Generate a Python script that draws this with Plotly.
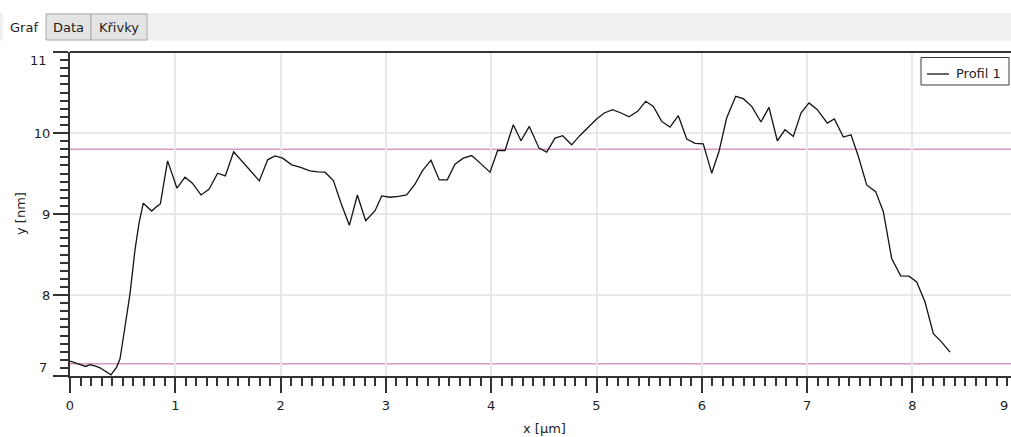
import plotly.graph_objects as go

# Height profile (x in µm, y in nm)
x_um = [0.000, 0.047, 0.095, 0.149, 0.190, 0.237, 0.285, 0.332, 0.389, 0.443,
        0.475, 0.522, 0.570, 0.617, 0.655, 0.696, 0.776, 0.823, 0.858, 0.927,
        1.016, 1.092, 1.162, 1.244, 1.320, 1.402, 1.475, 1.554, 1.636, 1.725,
        1.798, 1.877, 1.947, 2.020, 2.105, 2.184, 2.279, 2.358, 2.422, 2.501,
        2.574, 2.653, 2.729, 2.808, 2.897, 2.960, 3.039, 3.118, 3.197, 3.276,
        3.346, 3.428, 3.507, 3.583, 3.656, 3.735, 3.815, 3.903, 3.989, 4.061,
        4.131, 4.210, 4.283, 4.362, 4.454, 4.527, 4.606, 4.679, 4.764, 4.843,
        4.922, 5.001, 5.074, 5.153, 5.233, 5.309, 5.391, 5.467, 5.540, 5.619,
        5.698, 5.777, 5.857, 5.936, 6.014, 6.094, 6.163, 6.236, 6.322, 6.394,
        6.474, 6.562, 6.638, 6.717, 6.790, 6.869, 6.942, 7.018, 7.097, 7.192,
        7.259, 7.344, 7.417, 7.487, 7.566, 7.651, 7.724, 7.803, 7.889, 7.968,
        8.041, 8.120, 8.199, 8.272, 8.357]
y_nm = [7.183, 7.163, 7.142, 7.118, 7.139, 7.126, 7.101, 7.060, 7.015, 7.110,
        7.213, 7.605, 8.018, 8.554, 8.885, 9.133, 9.037, 9.091, 9.124, 9.656,
        9.318, 9.454, 9.380, 9.235, 9.306, 9.504, 9.471, 9.768, 9.648, 9.524,
        9.409, 9.669, 9.718, 9.690, 9.607, 9.578, 9.532, 9.520, 9.516, 9.412,
        9.133, 8.860, 9.235, 8.917, 9.041, 9.223, 9.207, 9.218, 9.235, 9.368,
        9.533, 9.665, 9.421, 9.421, 9.615, 9.689, 9.722, 9.619, 9.516, 9.784,
        9.784, 10.102, 9.904, 10.081, 9.813, 9.764, 9.937, 9.966, 9.854, 9.970,
        10.073, 10.173, 10.247, 10.288, 10.247, 10.201, 10.267, 10.391, 10.329, 10.143,
        10.073, 10.214, 9.925, 9.871, 9.867, 9.504, 9.771, 10.185, 10.453, 10.424,
        10.329, 10.136, 10.317, 9.904, 10.040, 9.957, 10.247, 10.371, 10.288, 10.123,
        10.173, 9.950, 9.978, 9.710, 9.359, 9.276, 9.029, 8.451, 8.236, 8.232,
        8.162, 7.914, 7.523, 7.427, 7.295]

# Horizontal marker levels (nm)
marker_levels = [9.80, 7.15]

series_name = "Profil 1"
tab_labels = ["Graf", "Data", "Křivky"]
x_ticks = [0, 1, 2, 3, 4, 5, 6, 7, 8]
y_ticks = [7, 8, 9, 10, 11]

W, H = 1011, 437
ML, MR, MT, MB = 70, 0, 52, 61
PW, PH = W - ML - MR, H - MT - MB
X_SCALE = 105.3  # px per µm
FONT = "DejaVu Sans"
TXT = "#1e1e1e"


def px(xp):
    return (xp - ML) / PW


def py(yp):
    return (H - MB - yp) / PH


fig = go.Figure()
fig.add_trace(go.Scatter(x=x_um, y=y_nm, mode="lines", name=series_name,
                         line=dict(color="#141414", width=1.3),
                         showlegend=False))

shapes = []
# marker levels
for lv in marker_levels:
    shapes.append(dict(type="line", xref="paper", x0=0, x1=1, yref="y",
                       y0=lv, y1=lv, layer="between",
                       line=dict(color="#d897c0", width=1.5)))
# top frame line
shapes.append(dict(type="line", xref="paper", x0=0, x1=1, yref="paper",
                   y0=1, y1=1, line=dict(color="#333333", width=2)))

# tab strip
shapes.append(dict(type="rect", xref="paper", yref="paper",
                   x0=px(0), x1=px(W), y0=py(40.5), y1=py(13),
                   fillcolor="#f0f0f0", line=dict(width=0)))
tab_bounds = [(3, 46), (46, 91), (91, 147)]
for i, (a, b) in enumerate(tab_bounds):
    if i == 0:
        shapes.append(dict(type="rect", xref="paper", yref="paper",
                           x0=px(a), x1=px(b), y0=py(41), y1=py(12),
                           fillcolor="#ffffff", line=dict(width=0)))
    else:
        shapes.append(dict(type="rect", xref="paper", yref="paper",
                           x0=px(a), x1=px(b), y0=py(40), y1=py(14),
                           fillcolor="#e4e4e4",
                           line=dict(color="#a9a9a9", width=1)))

# legend box
shapes.append(dict(type="rect", xref="paper", yref="paper",
                   x0=px(921), x1=px(1009), y0=py(85), y1=py(57.5),
                   fillcolor="#ffffff", line=dict(color="#3a3a3a", width=1)))
shapes.append(dict(type="line", xref="paper", yref="paper",
                   x0=px(927), x1=px(949), y0=py(74), y1=py(74),
                   line=dict(color="#141414", width=1.3)))
fig.update_layout(shapes=shapes)

annotations = []
tab_centers = [24, 68, 119]
for lab, cx in zip(tab_labels, tab_centers):
    annotations.append(dict(text=lab, xref="paper", yref="paper",
                            x=px(cx), y=py(27), showarrow=False,
                            xanchor="center", yanchor="middle",
                            font=dict(family=FONT, size=13, color=TXT)))
annotations.append(dict(text=series_name, xref="paper", yref="paper",
                        x=px(954), y=py(73.5), showarrow=False,
                        xanchor="left", yanchor="middle",
                        font=dict(family=FONT, size=13, color=TXT)))
# end labels of the y scale sit inside the axis span
annotations.append(dict(text="11", xref="paper", yref="y", x=0, y=11,
                        xshift=-21, yshift=-8, showarrow=False,
                        xanchor="right", yanchor="middle",
                        font=dict(family=FONT, size=13, color=TXT)))
annotations.append(dict(text="7", xref="paper", yref="y", x=0, y=7,
                        xshift=-21, yshift=9, showarrow=False,
                        xanchor="right", yanchor="middle",
                        font=dict(family=FONT, size=13, color=TXT)))
# last x label, pulled in against the right edge
annotations.append(dict(text="9", xref="paper", yref="paper",
                        x=1, y=py(405), xshift=-1,
                        showarrow=False, xanchor="right", yanchor="middle",
                        font=dict(family=FONT, size=13, color=TXT)))
# axis titles
annotations.append(dict(text="x [µm]", xref="paper", yref="paper",
                        x=px(544), y=py(428), showarrow=False,
                        xanchor="center", yanchor="middle",
                        font=dict(family=FONT, size=13, color=TXT)))
annotations.append(dict(text="y [nm]", xref="paper", yref="paper",
                        x=px(20), y=py(214), showarrow=False, textangle=-90,
                        xanchor="center", yanchor="middle",
                        font=dict(family=FONT, size=13, color=TXT)))
fig.update_layout(annotations=annotations)

fig.update_layout(
    width=W, height=H,
    margin=dict(l=ML, r=MR, t=MT, b=MB, pad=0),
    paper_bgcolor="#ffffff", plot_bgcolor="#ffffff",
    font=dict(family=FONT, size=13, color=TXT),
    showlegend=False,
)
fig.update_xaxes(
    range=[0, PW / X_SCALE], tickvals=x_ticks,
    ticktext=[str(v) for v in x_ticks],
    showline=True, linecolor="#333333", linewidth=2,
    ticks="outside", ticklen=15, tickwidth=1.5, tickcolor="#333333",
    ticklabelstandoff=1,
    showgrid=True, gridcolor="#e8e8e8", gridwidth=2, zeroline=False,
    minor=dict(dtick=0.1, tick0=0, ticks="outside", ticklen=8,
               tickwidth=1.5, tickcolor="#333333", showgrid=False),
    tickfont=dict(family=FONT, size=13, color=TXT),
)
fig.update_yaxes(
    range=[7, 11], tickvals=y_ticks,
    ticktext=["" if v in (7, 11) else str(v) for v in y_ticks],
    showline=True, linecolor="#333333", linewidth=2,
    ticks="outside", ticklen=15, tickwidth=1.5, tickcolor="#333333",
    ticklabelstandoff=0,
    showgrid=True, gridcolor="#e8e8e8", gridwidth=2, zeroline=False,
    minor=dict(dtick=0.1, tick0=7, ticks="outside", ticklen=8,
               tickwidth=1.5, tickcolor="#333333", showgrid=False),
    tickfont=dict(family=FONT, size=13, color=TXT),
)

fig.write_html("out.html")
